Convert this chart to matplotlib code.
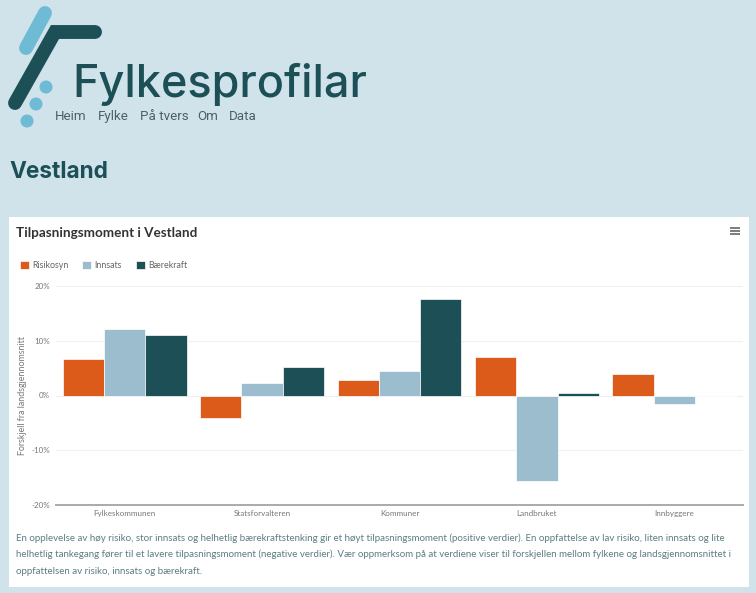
import matplotlib
matplotlib.use("Agg")
import matplotlib.pyplot as plt
from matplotlib.patches import Rectangle, Circle
from matplotlib.ticker import FuncFormatter

W, H = 756, 593
categories = ["Fylkeskommunen", "Statsforvalteren", "Kommuner", "Landbruket", "Innbyggere"]
risikosyn = [6.7, -4.1, 2.9, 7.1, 3.9]
innsats = [12.2, 2.2, 4.4, -15.7, -1.6]
baerekraft = [11.0, 5.2, 17.6, 0.5, 0.0]
series_names = ["Risikosyn", "Innsats", "Bærekraft"]
yticks = [-20, -10, 0, 10, 20]
nav_items = ["Heim", "Fylke", "På tvers", "Om", "Data"]
paragraph = [
    "En opplevelse av høy risiko, stor innsats og helhetlig bærekraftstenking gir et høyt tilpasningsmoment (positive verdier). En oppfattelse av lav risiko, liten innsats og lite",
    "helhetlig tankegang fører til et lavere tilpasningsmoment (negative verdier). Vær oppmerksom på at verdiene viser til forskjellen mellom fylkene og landsgjennomsnittet i",
    "oppfattelsen av risiko, innsats og bærekraft.",
]

BG = "#d0e3ea"
DARK = "#1d4f57"
ORANGE = "#dc5a1a"
BLUE = "#9cbdcd"
LIGHT = "#6fbad4"

fig = plt.figure(figsize=(W / 100, H / 100), dpi=100, facecolor=BG)

# Page layer in pixel coordinates
page = fig.add_axes([0, 0, 1, 1], zorder=0)
page.set_xlim(0, W)
page.set_ylim(H, 0)
page.axis("off")
page.add_patch(Rectangle((9, 217), 740, 370, fc="white", ec="none"))

page.plot([26, 45], [48, 13], color=LIGHT, lw=10, solid_capstyle="round")
page.plot([15, 55, 95], [103, 32, 32], color=DARK, lw=10,
          solid_capstyle="round", solid_joinstyle="miter")
for cx, cy in [(46, 87), (36, 104), (27, 121)]:
    page.add_patch(Circle((cx, cy), 6.5, fc=LIGHT, ec="none"))

page.text(72, 97, "Fylkesprofilar", fontfamily="Inter", fontsize=32.4, color=DARK,
          fontweight="medium", va="baseline", ha="left")
for x, label in zip([55, 98, 140, 197, 229], nav_items):
    page.text(x, 120, label, fontfamily="Roboto", fontsize=9.6, color="#4a6069",
              va="baseline", ha="left")
page.text(9, 178, "Vestland", fontfamily="Inter", fontsize=16.3, fontweight="bold",
          color=DARK, va="baseline", ha="left")
page.text(16, 237, "Tilpasningsmoment i Vestland", fontfamily="Lato", fontsize=9.7,
          fontweight="bold", color="#333333", va="baseline", ha="left")
for i, line in enumerate(paragraph):
    page.text(16, 541 + 16.3 * i, line, fontfamily="Lato", fontsize=7.05,
              color="#5c7d83", va="baseline", ha="left")
for y in [228, 231, 234]:
    page.plot([730, 740], [y, y], color="#666666", lw=1.2, solid_capstyle="butt")

# Chart
left, right, top, bottom = 56, 743, 286, 505
ax = fig.add_axes([left / W, 1 - bottom / H, (right - left) / W, (bottom - top) / H],
                  zorder=1, facecolor="none")
bw = 0.3
pos = list(range(len(categories)))
for off, vals, col, name in [(-bw, risikosyn, ORANGE, series_names[0]),
                             (0, innsats, BLUE, series_names[1]),
                             (bw, baerekraft, DARK, series_names[2])]:
    ax.bar([p + off for p in pos], vals, width=bw, color=col, edgecolor="white",
           linewidth=0.5, label=name, zorder=3)
ax.set_xlim(-0.5, 4.5)
ax.set_ylim(-20, 20)
ax.set_yticks(yticks)
ax.yaxis.set_major_formatter(FuncFormatter(lambda v, _: f"{v:.0f}%"))
ax.set_xticks(pos)
ax.set_xticklabels(categories)
ax.grid(axis="y", color="#f0f0f0", lw=0.8, zorder=0)
ax.set_axisbelow(True)
for s in ["top", "left", "right"]:
    ax.spines[s].set_visible(False)
ax.spines["bottom"].set_color("#aaaaaa")
ax.spines["bottom"].set_linewidth(1.4)
ax.tick_params(axis="both", length=0, labelcolor="#777777", labelsize=5.8)
ax.tick_params(axis="x", pad=3.5)
ax.tick_params(axis="y", pad=4.2)
for t in ax.get_xticklabels() + ax.get_yticklabels():
    t.set_fontfamily("Lato")
ax.set_ylabel("Forskjell fra landsgjennomsnitt", fontfamily="Lato", fontsize=6.4,
              color="#777777", labelpad=4)
ax.yaxis.set_label_coords((27 - left) / (right - left), 0.5)
leg = ax.legend(loc="upper left", bbox_to_anchor=(17 / W, 1 - 258 / H),
                bbox_transform=fig.transFigure, ncol=3, frameon=False,
                prop={"family": "Lato", "size": 6.4}, labelcolor="#666666",
                handlelength=1.0, handleheight=1.0, handletextpad=0.36,
                columnspacing=1.6, borderaxespad=0, borderpad=0.3)
fig.savefig("out.png", dpi=100, facecolor=BG)
